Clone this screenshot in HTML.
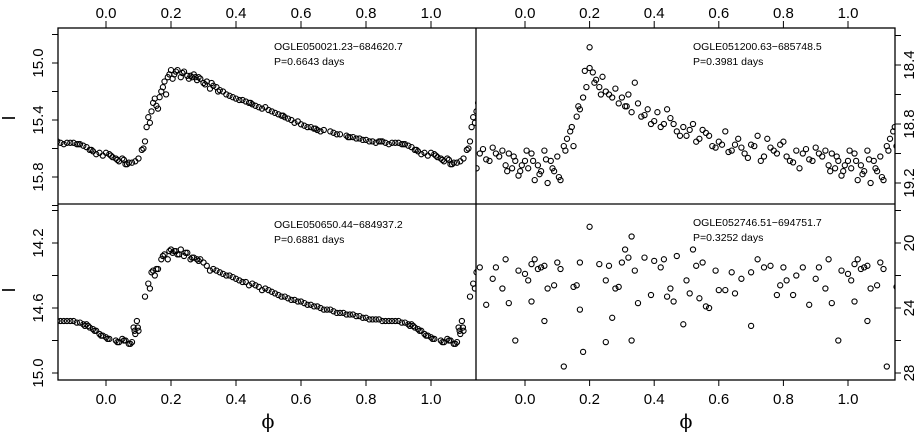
<!DOCTYPE html>
<html><head><meta charset="utf-8"><style>
html,body{margin:0;padding:0;background:#fff}
svg{display:block;font-family:"Liberation Sans",Arial,sans-serif}
</style></head><body>
<svg id="chart" width="920" height="434" viewBox="0 0 920 434"></svg>
<script>
// Panel 1: OGLE050021.23-684620.7
const p1Phase=[0.00,0.02,0.04,0.05,0.06,0.07,0.08,0.10,0.11,0.12,0.125,0.13,0.14,0.145,0.15,0.16,0.17,0.18,0.185,0.19,0.20,0.21,0.22,0.23,0.24,0.25,0.26,0.27,0.28,0.29,0.30,0.31,0.32,0.33,0.35,0.37,0.39,0.41,0.43,0.45,0.47,0.49,0.51,0.53,0.55,0.57,0.59,0.61,0.63,0.65,0.67,0.70,0.72,0.74,0.76,0.78,0.80,0.82,0.84,0.86,0.88,0.90,0.92,0.94,0.96,0.97,0.98,0.015,0.035,0.275,0.345,0.445,0.545,0.645,0.745,0.845,0.915,0.955,
0.01,0.03,0.055,0.065,0.09,0.115,0.135,0.155,0.165,0.175,0.195,0.205,0.215,0.235,0.255,0.265,0.285,0.305,0.325,0.34,0.36,0.38,0.40,0.42,0.44,0.46,0.48,0.50,0.52,0.54,0.56,0.58,0.60,0.62,0.64,0.66,0.69,0.71,0.75,0.77,0.79,0.81,0.83,0.85,0.87,0.89,0.91,0.93,0.95,0.99];
const p1Mag=[15.63,15.66,15.69,15.67,15.71,15.70,15.70,15.67,15.61,15.55,15.45,15.38,15.34,15.28,15.25,15.32,15.20,15.13,15.22,15.10,15.05,15.08,15.05,15.10,15.06,15.09,15.09,15.08,15.12,15.11,15.14,15.13,15.18,15.16,15.19,15.22,15.24,15.26,15.27,15.29,15.31,15.31,15.34,15.36,15.38,15.40,15.41,15.44,15.45,15.47,15.47,15.49,15.50,15.51,15.52,15.53,15.54,15.55,15.55,15.56,15.56,15.56,15.57,15.59,15.62,15.64,15.63,15.65,15.68,15.10,15.20,15.28,15.37,15.46,15.52,15.55,15.57,15.61,
15.64,15.67,15.68,15.71,15.69,15.60,15.42,15.30,15.24,15.17,15.08,15.11,15.06,15.07,15.11,15.10,15.10,15.15,15.14,15.17,15.20,15.23,15.25,15.26,15.28,15.30,15.32,15.33,15.35,15.37,15.39,15.42,15.43,15.45,15.46,15.48,15.48,15.50,15.52,15.53,15.54,15.55,15.56,15.55,15.57,15.56,15.57,15.58,15.61,15.65];
// Panel 2: OGLE051200.63-685748.5
const p2Phase=[0.00,0.01,0.02,0.03,0.04,0.05,0.06,0.07,0.08,0.09,0.10,0.11,0.12,0.13,0.14,0.15,0.16,0.17,0.18,0.19,0.20,0.20,0.21,0.22,0.23,0.24,0.26,0.28,0.30,0.31,0.32,0.33,0.35,0.36,0.38,0.40,0.41,0.43,0.45,0.47,0.49,0.50,0.52,0.54,0.56,0.58,0.60,0.62,0.64,0.66,0.68,0.70,0.72,0.74,0.76,0.78,0.80,0.82,0.84,0.86,0.88,0.90,0.92,0.94,0.95,0.96,0.97,0.98,0.99,0.25,0.34,0.44,0.55,0.65,0.75,0.85,0.93,
0.005,0.025,0.045,0.065,0.085,0.105,0.125,0.145,0.165,0.185,0.215,0.235,0.27,0.29,0.315,0.37,0.39,0.42,0.46,0.48,0.51,0.53,0.57,0.59,0.61,0.63,0.67,0.69,0.71,0.73,0.77,0.79,0.81,0.83,0.87,0.89,0.91,0.945,0.965,0.985];
const p2Mag=[19.05,19.10,19.00,19.18,19.08,19.12,18.98,19.20,19.05,19.12,19.02,19.18,18.95,18.90,18.85,18.95,18.75,18.70,18.62,18.55,18.42,18.28,18.45,18.50,18.55,18.48,18.60,18.56,18.62,18.68,18.60,18.72,18.66,18.75,18.70,18.78,18.72,18.80,18.76,18.85,18.82,18.88,18.80,18.90,18.86,18.95,18.92,18.85,18.98,18.90,19.00,18.94,18.88,19.02,18.96,19.00,18.92,19.05,18.98,19.00,19.04,18.96,19.02,19.08,19.00,19.10,19.05,19.15,19.08,18.58,18.52,18.70,18.84,18.94,18.90,19.10,18.98,
18.98,19.05,19.14,19.04,19.10,19.16,18.98,18.82,18.68,18.44,18.52,18.60,18.62,18.66,18.68,18.74,18.80,18.82,18.80,18.88,18.84,18.92,18.88,18.96,18.94,18.99,18.96,19.03,18.95,19.05,18.98,18.94,19.02,19.06,18.97,19.05,19.00,19.12,19.02,19.12];
// Panel 3: OGLE050650.44-684937.2
const p3Phase=[0.00,0.01,0.03,0.04,0.05,0.06,0.07,0.08,0.085,0.09,0.095,0.10,0.12,0.13,0.135,0.14,0.15,0.16,0.17,0.18,0.19,0.20,0.21,0.22,0.23,0.24,0.25,0.26,0.27,0.28,0.29,0.30,0.32,0.34,0.36,0.38,0.40,0.42,0.44,0.46,0.48,0.50,0.52,0.54,0.56,0.58,0.60,0.62,0.64,0.66,0.68,0.70,0.72,0.74,0.76,0.78,0.80,0.82,0.84,0.86,0.88,0.90,0.92,0.94,0.95,0.96,0.97,0.98,0.99,0.33,0.43,0.53,0.63,0.73,0.83,0.93,
0.005,0.035,0.055,0.075,0.088,0.098,0.145,0.155,0.175,0.195,0.205,0.215,0.225,0.245,0.265,0.285,0.31,0.35,0.37,0.39,0.41,0.45,0.47,0.49,0.51,0.55,0.57,0.59,0.61,0.65,0.67,0.69,0.71,0.75,0.77,0.79,0.81,0.85,0.87,0.89,0.91,0.935,0.945,0.965,0.985];
const p3Mag=[14.78,14.79,14.80,14.81,14.79,14.80,14.82,14.81,14.72,14.76,14.68,14.74,14.53,14.45,14.48,14.38,14.40,14.36,14.30,14.27,14.30,14.24,14.25,14.27,14.24,14.28,14.26,14.30,14.29,14.30,14.30,14.32,14.37,14.37,14.39,14.40,14.42,14.44,14.46,14.46,14.49,14.49,14.51,14.53,14.54,14.55,14.56,14.58,14.59,14.60,14.61,14.62,14.63,14.64,14.64,14.65,14.66,14.67,14.67,14.68,14.68,14.68,14.69,14.70,14.72,14.73,14.74,14.76,14.77,14.36,14.44,14.52,14.58,14.63,14.67,14.70,
14.79,14.81,14.80,14.82,14.74,14.72,14.37,14.36,14.28,14.25,14.26,14.25,14.27,14.26,14.29,14.31,14.34,14.38,14.40,14.41,14.43,14.45,14.47,14.48,14.50,14.53,14.55,14.56,14.57,14.59,14.61,14.61,14.63,14.64,14.65,14.66,14.67,14.68,14.68,14.68,14.69,14.71,14.71,14.74,14.77];
// Panel 4: OGLE052746.51-694751.7
const p4Phase=[0.00,0.01,0.02,0.02,0.03,0.04,0.05,0.06,0.06,0.07,0.09,0.10,0.11,0.12,0.15,0.16,0.17,0.17,0.18,0.20,0.23,0.25,0.25,0.26,0.27,0.28,0.29,0.30,0.31,0.32,0.33,0.33,0.34,0.35,0.37,0.39,0.40,0.42,0.43,0.44,0.45,0.46,0.47,0.49,0.50,0.51,0.52,0.53,0.54,0.55,0.56,0.57,0.59,0.60,0.62,0.64,0.65,0.67,0.70,0.70,0.72,0.74,0.76,0.78,0.79,0.80,0.81,0.83,0.84,0.86,0.88,0.90,0.91,0.93,0.94,0.95,0.97,0.98];
const p4Mag=[21.9,22.3,21.3,23.6,21.0,21.6,21.5,21.4,24.8,22.8,22.6,21.2,21.6,27.6,22.7,22.6,21.2,24.1,26.7,19.0,21.3,22.3,26.1,21.4,24.6,22.8,22.7,21.2,20.4,20.9,19.6,26.0,21.7,23.7,20.9,23.2,21.1,21.5,21.0,23.3,22.8,23.6,20.8,25.0,22.3,23.1,20.4,21.4,23.4,21.2,23.9,24.0,21.7,22.9,22.9,21.8,23.1,22.2,21.8,25.1,21.0,21.5,21.4,23.2,22.6,21.5,22.3,23.2,22.0,21.5,23.8,22.2,21.5,22.8,21.0,23.7,26.0,21.7];

const panels=[
 {name:'top-left',x0:58,x1:476,y0:28,y1:204,px0:106,ppu:325,my0:15.0,ypos0:63,ypm:142.5,ph:p1Phase,mg:p1Mag,ticks:[14.8,15.0,15.2,15.4,15.6,15.8,16.0],labels:[15.0,15.4,15.8],side:'left',dec:1,tx:274,ty:50,title:'OGLE050021.23\u2212684620.7',per:'P=0.6643 days',xaxis:'top'},
 {name:'top-right',x0:476,x1:895,y0:28,y1:204,px0:525,ppu:323,my0:18.4,ypos0:65,ypm:147.5,ph:p2Phase,mg:p2Mag,ticks:[18.2,18.4,18.6,18.8,19.0,19.2],labels:[18.4,18.8,19.2],side:'right',dec:1,tx:693,ty:50,title:'OGLE051200.63\u2212685748.5',per:'P=0.3981 days',xaxis:'top'},
 {name:'bottom-left',x0:58,x1:476,y0:204,y1:380,px0:106,ppu:325,my0:14.2,ypos0:243,ypm:162.5,ph:p3Phase,mg:p3Mag,ticks:[14.0,14.2,14.4,14.6,14.8,15.0],labels:[14.2,14.6,15.0],side:'left',dec:1,tx:274,ty:228,title:'OGLE050650.44\u2212684937.2',per:'P=0.6881 days',xaxis:'bottom'},
 {name:'bottom-right',x0:476,x1:895,y0:204,y1:380,px0:525,ppu:323,my0:20,ypos0:243,ypm:16.25,ph:p4Phase,mg:p4Mag,ticks:[18,20,22,24,26,28],labels:[20,24,28],side:'right',dec:0,tx:693,ty:226,title:'OGLE052746.51\u2212694751.7',per:'P=0.3252 days',xaxis:'bottom'}
];
const xTicks=[0,0.2,0.4,0.6,0.8,1.0];
const NS='http://www.w3.org/2000/svg';
const svg=document.getElementById('chart');
function mk(tag,attrs,parent){const e=document.createElementNS(NS,tag);for(const k in attrs)e.setAttribute(k,attrs[k]);(parent||svg).appendChild(e);return e;}

panels.forEach(p=>{
  const g=mk('g',{});
  
  
  const xs=v=>p.px0+v*p.ppu;
  const ys=m=>p.ypos0+(m-p.my0)*p.ypm;
  const clip='clip-'+p.name;
  const cp=mk('clipPath',{id:clip},g);
  mk('rect',{x:p.x0,y:p.y0,width:p.x1-p.x0,height:p.y1-p.y0},cp);
  const pts=mk('g',{'clip-path':'url(#'+clip+')'},g);
  
  
  for(let i=0;i<p.ph.length;i++){
    for(const off of [-1,0,1]){
      const ph=p.ph[i]+off;
      if(ph<-0.2||ph>1.2)continue;
      const c=mk('circle',{cx:xs(ph).toFixed(1),cy:ys(p.mg[i]).toFixed(1),r:2.6,fill:'none',stroke:'#000','stroke-width':1.1},pts);
      
      
    }
  }
  p.ticks.forEach(t=>{
    const y=ys(t);
    if(p.side==='left') mk('line',{x1:52,x2:58,y1:y,y2:y,stroke:'#000'},g);
    else mk('line',{x1:895,x2:901,y1:y,y2:y,stroke:'#000'},g);
  });
  p.labels.forEach(t=>{
    const y=ys(t);
    const x=p.side==='left'?43:914;
    const tx=mk('text',{x:x,y:y,'font-size':15,'text-anchor':'middle',transform:'rotate(-90 '+x+' '+y+')'},g);
    tx.textContent=t.toFixed(p.dec);
    
    
  });
  xTicks.forEach(t=>{
    const x=xs(t);
    if(p.xaxis==='top'){
      mk('line',{x1:x,x2:x,y1:21,y2:28,stroke:'#000'},g);
      const tx=mk('text',{x:x,y:18,'font-size':15,'text-anchor':'middle'},g);
      tx.textContent=t.toFixed(1);
      
      
    }else{
      mk('line',{x1:x,x2:x,y1:380,y2:386,stroke:'#000'},g);
      const tx=mk('text',{x:x,y:404,'font-size':15,'text-anchor':'middle'},g);
      tx.textContent=t.toFixed(1);
      
      
    }
  });
  const t1=mk('text',{x:p.tx,y:p.ty,'font-size':10.5},g);
  t1.textContent=p.title;
  
  
  const t2=mk('text',{x:p.tx,y:p.ty+15,'font-size':10.5},g);
  t2.textContent=p.per;
  
  
});
const fr=mk('rect',{x:58,y:28,width:837,height:352,fill:'none',stroke:'#000','stroke-width':1.3});


mk('line',{x1:58,x2:895,y1:204,y2:204,stroke:'#000','stroke-width':1.3});
mk('line',{x1:476,x2:476,y1:28,y2:380,stroke:'#000','stroke-width':1.3});
[118,290].forEach(y=>{
  const t=mk('text',{x:15,y:y,'font-size':18,'text-anchor':'middle',transform:'rotate(-90 15 '+y+')'});
  t.textContent='I';
  
  
});
[268,686].forEach(x=>{
  const t=mk('text',{x:x,y:428,'font-size':19,'text-anchor':'middle','font-family':'"DejaVu Serif",serif'});
  t.textContent='\u03D5';
  
  
});
</script>
</body></html>
